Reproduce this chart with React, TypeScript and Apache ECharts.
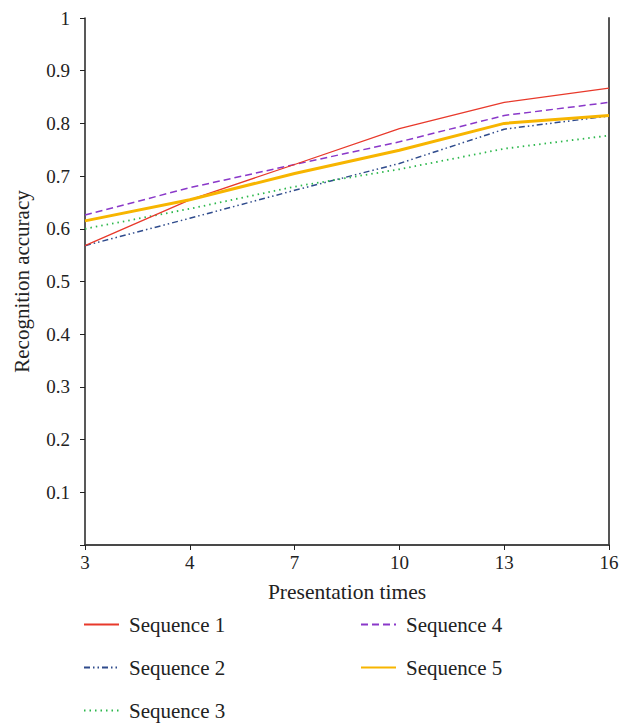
import React, { useEffect, useRef } from "react";
import * as echarts from "echarts";

const categories = ["3", "4", "7", "10", "13", "16"];
const seq1 = [0.568, 0.655, 0.722, 0.79, 0.84, 0.867];
const seq2 = [0.568, 0.62, 0.673, 0.724, 0.789, 0.814];
const seq3 = [0.6, 0.638, 0.68, 0.713, 0.752, 0.777];
const seq4 = [0.626, 0.678, 0.722, 0.765, 0.815, 0.84];
const seq5 = [0.615, 0.655, 0.705, 0.749, 0.8, 0.815];
const seriesNames = ["Sequence 1", "Sequence 2", "Sequence 3", "Sequence 4", "Sequence 5"];

const FONT = "'Liberation Serif', 'DejaVu Serif', serif";

export default function App() {
  const ref = useRef<HTMLDivElement>(null);
  useEffect(() => {
    if (!ref.current) return;
    const chart = echarts.init(ref.current, null, { renderer: "svg" });
    const mk = (name: string, data: number[], color: string, type: any, width: number, z = 2) => ({
      name,
      type: "line",
      data,
      symbol: "none",
      showSymbol: false,
      z,
      lineStyle: { color, type, width },
      itemStyle: { color },
    });
    const legendBase = {
      orient: "vertical",
      top: 614,
      padding: 0,
      itemWidth: 35,
      itemHeight: 20,
      itemGap: 22,
      itemStyle: { color: "transparent", borderColor: "transparent", borderWidth: 0, opacity: 0 },
      textStyle: { fontFamily: FONT, fontSize: 21, color: "#222", padding: [0, 0, 0, 5] },
    };
    chart.setOption({
      animation: false,
      textStyle: { fontFamily: FONT },
      grid: { left: 85, right: 22, top: 18, bottom: 182, containLabel: false },
      legend: [
        { ...legendBase, data: seriesNames.slice(0, 3), left: 83 },
        { ...legendBase, data: seriesNames.slice(3), left: 360 },
      ],
      xAxis: [
        {
          type: "category",
          data: categories,
          boundaryGap: false,
          name: "Presentation times",
          nameLocation: "middle",
          nameGap: 36,
          nameTextStyle: { fontFamily: FONT, fontSize: 21.5, color: "#222" },
          axisLine: { lineStyle: { color: "#222", width: 1.5 } },
          axisTick: { show: true, length: 5, alignWithLabel: true, lineStyle: { color: "#222" } },
          axisLabel: { fontFamily: FONT, fontSize: 19, color: "#222", margin: 8 },
          splitLine: { show: false },
        },
        {
          type: "category",
          data: categories,
          boundaryGap: false,
          position: "top",
          axisLine: { lineStyle: { color: "#444", width: 1.5 } },
          axisTick: { show: false },
          axisLabel: { show: false },
          splitLine: { show: false },
        },
      ],
      yAxis: [
        {
          type: "value",
          min: 0,
          max: 1,
          interval: 0.1,
          name: "Recognition accuracy",
          nameLocation: "middle",
          nameGap: 53,
          nameTextStyle: { fontFamily: FONT, fontSize: 21, color: "#222" },
          axisLine: { show: true, lineStyle: { color: "#222", width: 1.5 } },
          axisTick: { show: true, length: 5, lineStyle: { color: "#222" } },
          axisLabel: {
            fontFamily: FONT,
            fontSize: 19,
            color: "#222",
            margin: 15,
            formatter: (v: number) => (v === 0 ? "" : v === 1 ? "1" : String(Math.round(v * 10) / 10)),
          },
          splitLine: { show: false },
        },
        {
          type: "value",
          min: 0,
          max: 1,
          position: "right",
          axisLine: { show: true, lineStyle: { color: "#555", width: 2 } },
          axisTick: { show: false },
          axisLabel: { show: false },
          splitLine: { show: false },
        },
      ],
      series: [
        mk(seriesNames[0], seq1, "#e8392b", "solid", 1.3, 3),
        mk(seriesNames[1], seq2, "#2f4b8c", [6, 3, 1.5, 3, 1.5, 3], 1.5),
        mk(seriesNames[2], seq3, "#2cb84c", [1.5, 4], 1.8),
        mk(seriesNames[3], seq4, "#8a38c9", [7, 4], 1.5),
        mk(seriesNames[4], seq5, "#f7b500", "solid", 3, 4),
      ],
    });
    return () => chart.dispose();
  }, []);
  return <div ref={ref} style={{ width: 631, height: 727, position: "absolute", left: 0, top: 0 }} />;
}
